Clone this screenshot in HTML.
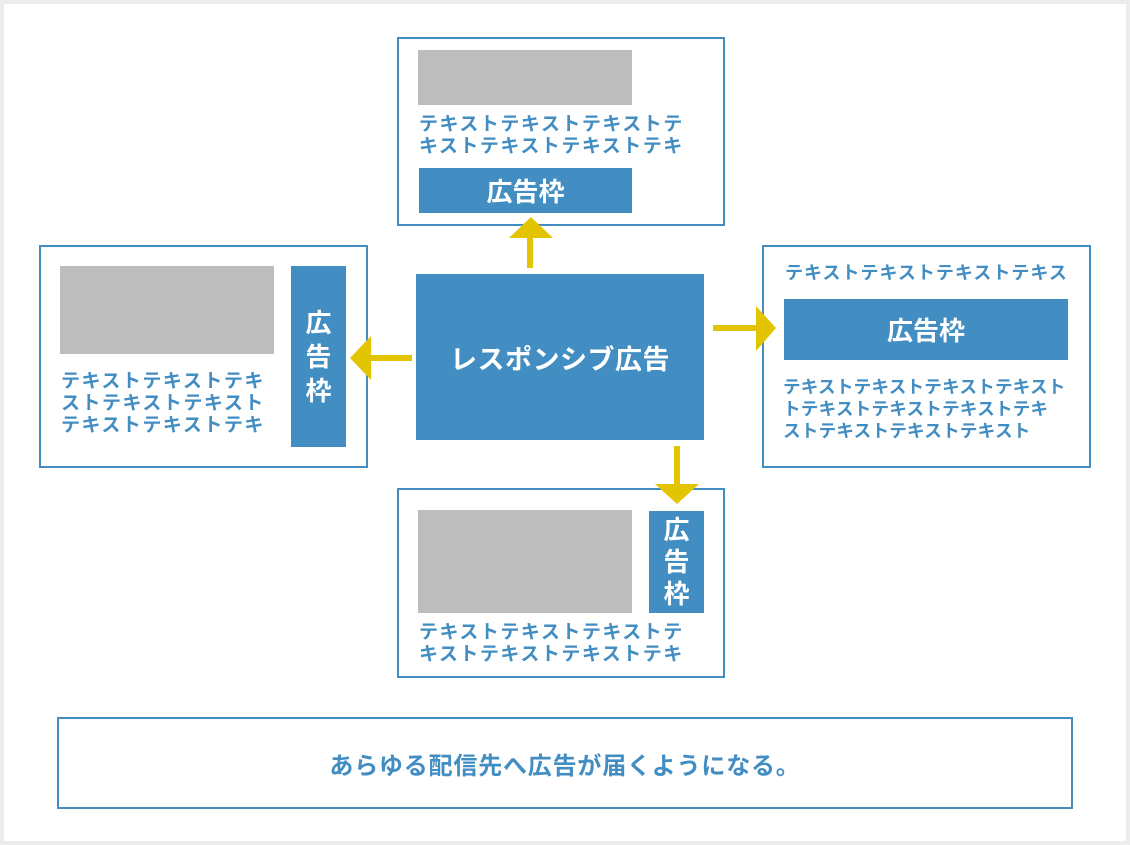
<!DOCTYPE html>
<html><head><meta charset="utf-8"><style>
body{margin:0;width:1130px;height:845px;background:#ececec;position:relative;font-family:"Liberation Sans","Noto Sans CJK JP",sans-serif;font-weight:bold;overflow:hidden}
.bg{position:absolute;left:4px;top:4px;width:1122px;height:837px;background:#fff}
.a{position:absolute;box-sizing:border-box}
.bx{border:2px solid #428dc2;background:#fff}
.g{background:#bdbdbd}
.b{background:#428dc2;color:#fff;display:flex;align-items:center;justify-content:center}
.t{color:#428dc2;font-size:19px;letter-spacing:1.5px;line-height:22px;white-space:nowrap}
.y{background:#e3c400}
</style></head><body>
<div class="bg"></div>
<!-- top -->
<div class="a bx" style="left:397px;top:37px;width:328px;height:189px"></div>
<div class="a g" style="left:418px;top:50px;width:214px;height:55px"></div>
<div class="a t" style="left:419px;top:114px">テキストテキストテキストテ<br>キストテキストテキストテキ</div>
<div class="a b" style="left:419px;top:168px;width:213px;height:45px;font-size:26px">広告枠</div>
<!-- left -->
<div class="a bx" style="left:39px;top:245px;width:329px;height:223px"></div>
<div class="a g" style="left:60px;top:266px;width:214px;height:88px"></div>
<div class="a t" style="left:61px;top:371px">テキストテキストテキ<br>ストテキストテキスト<br>テキストテキストテキ</div>
<div class="a b" style="left:291px;top:266px;width:55px;height:181px;font-size:26px;line-height:34px;text-align:center">広<br>告<br>枠</div>
<!-- right -->
<div class="a bx" style="left:762px;top:245px;width:329px;height:223px"></div>
<div class="a t" style="left:785px;top:262px;font-size:18px;letter-spacing:1px">テキストテキストテキストテキス</div>
<div class="a b" style="left:784px;top:299px;width:284px;height:61px;font-size:26px">広告枠</div>
<div class="a t" style="left:783px;top:376px;font-size:17.6px;letter-spacing:0.2px">テキストテキストテキストテキスト<br>トテキストテキストテキストテキ<br>ストテキストテキストテキスト</div>
<!-- bottom -->
<div class="a bx" style="left:397px;top:488px;width:328px;height:190px"></div>
<div class="a g" style="left:418px;top:510px;width:214px;height:103px"></div>
<div class="a t" style="left:419px;top:622px">テキストテキストテキストテ<br>キストテキストテキストテキ</div>
<div class="a b" style="left:649px;top:511px;width:55px;height:102px;font-size:26px;line-height:32px;text-align:center">広<br>告<br>枠</div>
<!-- center -->
<div class="a b" style="left:416px;top:274px;width:288px;height:166px;font-size:27px;letter-spacing:0.5px">レスポンシブ広告</div>
<!-- arrows -->
<svg class="a" style="left:0;top:0" width="1130" height="845">
<g fill="#e3c400">
<rect x="527" y="236" width="6" height="32"/><polygon points="509,238 531,217 553,238"/>
<rect x="370" y="355" width="42" height="6"/><polygon points="371,336 350,358 371,380"/>
<rect x="713" y="325" width="45" height="6"/><polygon points="756,306 776,328 756,351"/>
<rect x="674" y="446" width="6" height="40"/><polygon points="655,484 677,504 699,484"/>
</g></svg>
<!-- footer -->
<div class="a bx" style="left:57px;top:717px;width:1016px;height:92px;display:flex;align-items:center;justify-content:center;color:#428dc2;font-size:24px;letter-spacing:0.8px">あらゆる配信先へ広告が届くようになる。</div>
</body></html>
